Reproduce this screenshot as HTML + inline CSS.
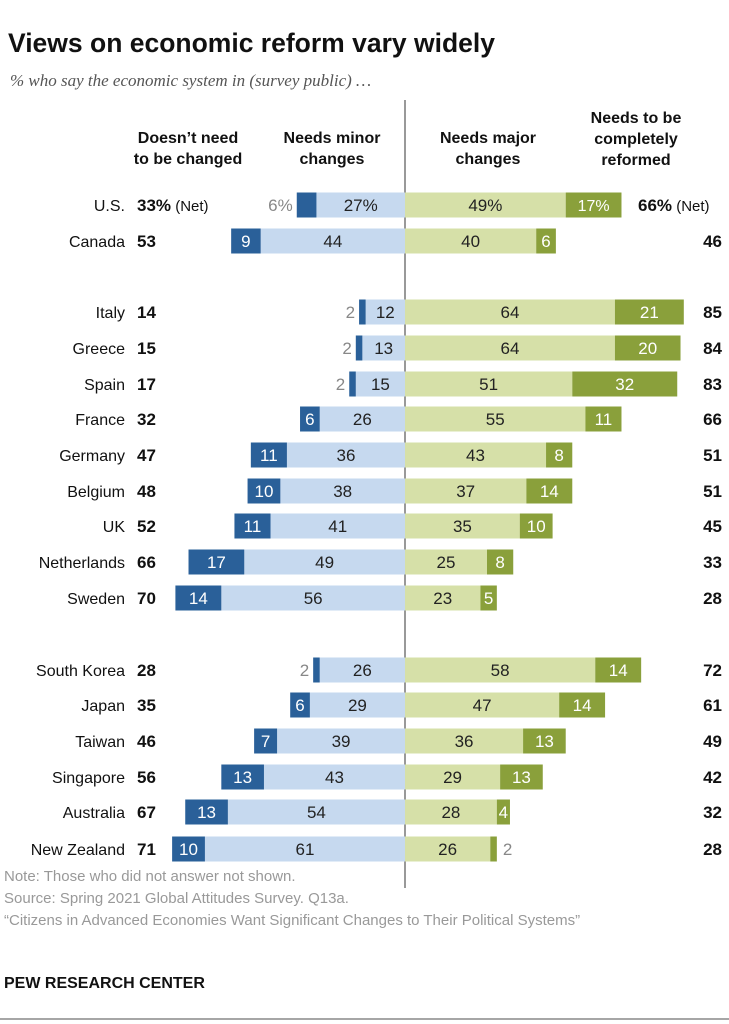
<!DOCTYPE html>
<html><head><meta charset="utf-8">
<style>
body{margin:0;background:#fff;}
svg{display:block;font-family:"Liberation Sans Narrow","Liberation Sans",sans-serif;}
</style></head>
<body>
<svg id="chart" width="729" height="1024" viewBox="0 0 729 1024">
<text x="8" y="52" font-family="Liberation Sans, sans-serif" font-size="26.5" font-weight="bold" fill="#111">Views on economic reform vary widely</text>
<text x="10" y="86" font-family="Liberation Serif, serif" font-style="italic" font-size="17" fill="#555">% who say the economic system in (survey public) …</text>
<g font-weight="bold" font-size="16" fill="#111" text-anchor="middle">
<text x="188" y="143"><tspan x="188">Doesn’t need</tspan><tspan x="188" dy="21">to be changed</tspan></text>
<text x="332" y="143"><tspan x="332">Needs minor</tspan><tspan x="332" dy="21">changes</tspan></text>
<text x="488" y="143"><tspan x="488">Needs major</tspan><tspan x="488" dy="21">changes</tspan></text>
<text x="636" y="123"><tspan x="636">Needs to be</tspan><tspan x="636" dy="21">completely</tspan><tspan x="636" dy="21">reformed</tspan></text>
</g>
<line x1="405" y1="100" x2="405" y2="888" stroke="#333" stroke-width="1"/>
<g id="bars"></g>
<g font-size="15" fill="#999">
<text x="4" y="881">Note: Those who did not answer not shown.</text>
<text x="4" y="903">Source: Spring 2021 Global Attitudes Survey. Q13a.</text>
<text x="4" y="925">“Citizens in Advanced Economies Want Significant Changes to Their Political Systems”</text>
</g>
<text x="4" y="988" font-size="16" font-weight="bold" fill="#111">PEW RESEARCH CENTER</text>
<line x1="0" y1="1019" x2="729" y2="1019" stroke="#888" stroke-width="1.5"/>
</svg>
<script>
const countries=["U.S.","Canada","Italy","Greece","Spain","France","Germany","Belgium","UK","Netherlands","Sweden","South Korea","Japan","Taiwan","Singapore","Australia","New Zealand"];
const notNeeded=[6,9,2,2,2,6,11,10,11,17,14,2,6,7,13,13,10];
const minor=[27,44,12,13,15,26,36,38,41,49,56,26,29,39,43,54,61];
const major=[49,40,64,64,51,55,43,37,35,25,23,58,47,36,29,28,26];
const reform=[17,6,21,20,32,11,8,14,10,8,5,14,14,13,13,4,2];
const netLeft=[33,53,14,15,17,32,47,48,52,66,70,28,35,46,56,67,71];
const netRight=[66,46,85,84,83,66,51,51,45,33,28,72,61,49,42,32,28];
const rowY=[205,241,312,348,384,419,455,491,526,562,598,670,705,741,777,812,849];

const C=405, S=3.28, H=25;
const x=v=>v*S;
const NS="http://www.w3.org/2000/svg";
const g=document.getElementById('bars');
function mk(tag,attrs,txt){const e=document.createElementNS(NS,tag);for(const k in attrs)e.setAttribute(k,attrs[k]);if(txt!==undefined)e.textContent=txt;g.appendChild(e);return e;}
countries.forEach((c,i)=>{
  const y=rowY[i], top=y-H/2, ty=y+6, pct=i===0?"%":"";
  let t=mk('text',{x:125,y:ty,'text-anchor':'end','font-size':16,fill:'#111'},c);
  
  
  let r=mk('rect',{x:C-x(minor[i]),y:top,width:x(minor[i]),height:H,fill:'#c6d9ef'});
  
  
  r=mk('rect',{x:C-x(minor[i]+notNeeded[i]),y:top,width:x(notNeeded[i]),height:H,fill:'#2a6099'});
  
  
  r=mk('rect',{x:C,y:top,width:x(major[i]),height:H,fill:'#d6e0a8'});
  
  
  r=mk('rect',{x:C+x(major[i]),y:top,width:x(reform[i]),height:H,fill:'#8aa03b'});
  
  
  t=mk('text',{x:C-x(minor[i])/2,y:ty,'text-anchor':'middle','font-size':17,fill:'#222'},minor[i]+pct);
  
  
  const outL=notNeeded[i]<3||i===0;
  const dx=C-x(minor[i]+notNeeded[i]);
  t=mk('text',outL?{x:dx-4,y:ty,'text-anchor':'end','font-size':17,fill:'#888'}:{x:dx+x(notNeeded[i])/2,y:ty,'text-anchor':'middle','font-size':17,fill:'#fff'},notNeeded[i]+pct);
  
  
  t=mk('text',{x:C+x(major[i])/2,y:ty,'text-anchor':'middle','font-size':17,fill:'#222'},major[i]+pct);
  
  
  const rx=C+x(major[i]);
  const outR=reform[i]<3;
  t=mk('text',outR?{x:rx+x(reform[i])+6,y:ty,'font-size':17,fill:'#888'}:{x:rx+x(reform[i])/2,y:ty,'text-anchor':'middle','font-size':i===0?16:17,fill:'#fff'},reform[i]+pct);
  
  
  t=mk('text',{x:137,y:ty,'font-size':17,'font-weight':'bold',fill:'#111'});
  t.innerHTML=netLeft[i]+pct+(i===0?'<tspan font-weight="normal" font-size="15"> (Net)</tspan>':'');
  
  
  t=mk('text',i===0?{x:638,y:ty,'font-size':17,'font-weight':'bold',fill:'#111'}:{x:722,y:ty,'text-anchor':'end','font-size':17,'font-weight':'bold',fill:'#111'});
  t.innerHTML=netRight[i]+pct+(i===0?'<tspan font-weight="normal" font-size="15"> (Net)</tspan>':'');
  
  
});
</script>
</body></html>
